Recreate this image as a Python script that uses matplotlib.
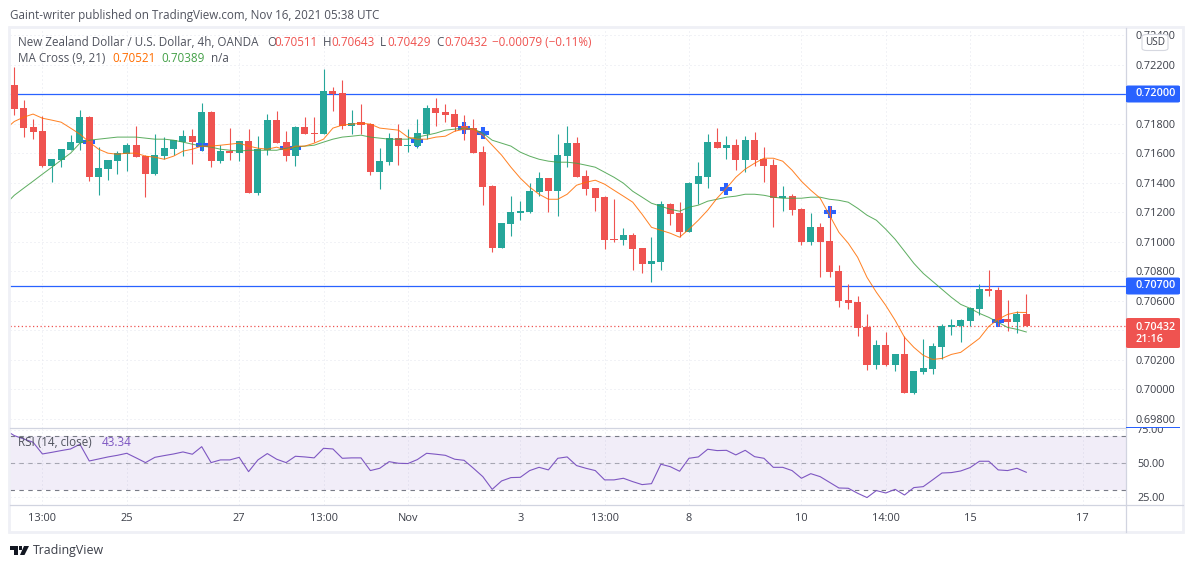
import matplotlib
matplotlib.use("Agg")
import matplotlib.pyplot as plt
import numpy as np
from matplotlib.lines import Line2D
from matplotlib.patches import FancyBboxPatch, Polygon, Rectangle

W, H = 1194, 568
BLUE = "#2962ff"
RED = "#ef5350"
GREEN = "#26a69a"
ORANGE = "#ff6d00"
MA_GREEN = "#43a047"
PURPLE = "#7e57c2"
TEXT = "#50535e"
AXIS_TEXT = "#3b3e48"
SEP = "#d1d4e0"
GRID = "#e4e6ee"
FONT = "Open Sans"

opens = [
    0.72061, 0.71905, 0.71776, 0.71749, 0.71512, 0.71553, 0.71620, 0.71668, 0.71844, 0.71437,
    0.71492, 0.71546, 0.71593, 0.71654, 0.71580, 0.71458, 0.71580, 0.71627, 0.71675, 0.71715,
    0.71668, 0.71878, 0.71546, 0.71614, 0.71600, 0.71681, 0.71329, 0.71620, 0.71824, 0.71675,
    0.71580, 0.71776, 0.71736, 0.71729, 0.72020, 0.72007, 0.71783, 0.71810, 0.71797, 0.71471,
    0.71539, 0.71702, 0.71648, 0.71648, 0.71729, 0.71905, 0.71878, 0.71865, 0.71783, 0.71770,
    0.71607, 0.71376, 0.70956, 0.71119, 0.71193, 0.71200, 0.71336, 0.71431, 0.71342, 0.71580,
    0.71668, 0.71444, 0.71363, 0.71302, 0.71017, 0.71010, 0.71044, 0.70956, 0.70848, 0.70861,
    0.71254, 0.71193, 0.71064, 0.71390, 0.71437, 0.71675, 0.71634, 0.71654, 0.71553, 0.71688,
    0.71559, 0.71519, 0.71295, 0.71309, 0.71220, 0.70997, 0.71098, 0.71003, 0.70800, 0.70603,
    0.70590, 0.70420, 0.70163, 0.70298, 0.70163, 0.70237, 0.69973, 0.70115, 0.70136, 0.70285,
    0.70420, 0.70427, 0.70461, 0.70542, 0.70678, 0.70671, 0.70475, 0.70454, 0.70511,
]
closes = [
    0.71898, 0.71770, 0.71742, 0.71512, 0.71559, 0.71627, 0.71675, 0.71844, 0.71437, 0.71498,
    0.71553, 0.71600, 0.71654, 0.71573, 0.71458, 0.71587, 0.71634, 0.71688, 0.71715, 0.71675,
    0.71878, 0.71546, 0.71614, 0.71600, 0.71681, 0.71329, 0.71627, 0.71824, 0.71668, 0.71580,
    0.71776, 0.71729, 0.71729, 0.72020, 0.72000, 0.71783, 0.71803, 0.71790, 0.71471, 0.71546,
    0.71702, 0.71648, 0.71654, 0.71736, 0.71905, 0.71871, 0.71858, 0.71776, 0.71763, 0.71600,
    0.71370, 0.70956, 0.71125, 0.71200, 0.71207, 0.71342, 0.71431, 0.71342, 0.71587, 0.71668,
    0.71437, 0.71356, 0.71295, 0.71010, 0.71010, 0.71044, 0.70949, 0.70848, 0.70868, 0.71254,
    0.71186, 0.71064, 0.71397, 0.71444, 0.71675, 0.71634, 0.71654, 0.71553, 0.71688, 0.71553,
    0.71512, 0.71295, 0.71309, 0.71214, 0.70997, 0.71098, 0.70997, 0.70793, 0.70597, 0.70583,
    0.70414, 0.70163, 0.70298, 0.70163, 0.70237, 0.69973, 0.70122, 0.70142, 0.70292, 0.70427,
    0.70434, 0.70468, 0.70549, 0.70678, 0.70664, 0.70468, 0.70454, 0.70509, 0.70432,
]
highs = [
    0.72183, 0.71959, 0.71831, 0.71851, 0.71559, 0.71627, 0.71722, 0.71892, 0.71851, 0.71641,
    0.71553, 0.71614, 0.71668, 0.71783, 0.71587, 0.71729, 0.71709, 0.71688, 0.71756, 0.71763,
    0.71939, 0.71885, 0.71654, 0.71770, 0.71681, 0.71763, 0.71715, 0.71865, 0.71885, 0.71749,
    0.71783, 0.71844, 0.71844, 0.72170, 0.72048, 0.72095, 0.71892, 0.71932, 0.71803, 0.71634,
    0.71736, 0.71797, 0.71763, 0.71831, 0.71926, 0.71973, 0.71932, 0.71898, 0.71858, 0.71831,
    0.71648, 0.71383, 0.71125, 0.71309, 0.71275, 0.71397, 0.71471, 0.71431, 0.71729, 0.71783,
    0.71709, 0.71485, 0.71363, 0.71309, 0.71288, 0.71092, 0.71058, 0.70956, 0.71031, 0.71275,
    0.71261, 0.71268, 0.71403, 0.71539, 0.71729, 0.71770, 0.71715, 0.71695, 0.71715, 0.71742,
    0.71641, 0.71559, 0.71376, 0.71322, 0.71227, 0.71193, 0.71125, 0.71241, 0.70841, 0.70712,
    0.70631, 0.70509, 0.70332, 0.70386, 0.70237, 0.70359, 0.70122, 0.70339, 0.70312, 0.70441,
    0.70475, 0.70475, 0.70556, 0.70712, 0.70807, 0.70692, 0.70603, 0.70529, 0.70643,
]
lows = [
    0.71858, 0.71709, 0.71695, 0.71505, 0.71403, 0.71505, 0.71620, 0.71620, 0.71410, 0.71315,
    0.71417, 0.71458, 0.71478, 0.71573, 0.71302, 0.71451, 0.71559, 0.71587, 0.71580, 0.71526,
    0.71614, 0.71505, 0.71532, 0.71553, 0.71546, 0.71329, 0.71315, 0.71587, 0.71668, 0.71546,
    0.71512, 0.71729, 0.71675, 0.71729, 0.71885, 0.71763, 0.71729, 0.71729, 0.71451, 0.71356,
    0.71519, 0.71519, 0.71607, 0.71634, 0.71695, 0.71783, 0.71810, 0.71749, 0.71688, 0.71600,
    0.71248, 0.70929, 0.70956, 0.71037, 0.71146, 0.71193, 0.71309, 0.71200, 0.71173, 0.71505,
    0.71437, 0.71315, 0.71207, 0.70949, 0.70997, 0.70976, 0.70807, 0.70786, 0.70725, 0.70807,
    0.71112, 0.71031, 0.71064, 0.71254, 0.71363, 0.71634, 0.71559, 0.71485, 0.71471, 0.71512,
    0.71403, 0.71098, 0.71207, 0.71180, 0.70976, 0.70976, 0.70759, 0.70759, 0.70556, 0.70542,
    0.70359, 0.70129, 0.70136, 0.70156, 0.70122, 0.69973, 0.69966, 0.70102, 0.70102, 0.70203,
    0.70366, 0.70319, 0.70427, 0.70502, 0.70631, 0.70427, 0.70393, 0.70380, 0.70429,
]

# indicators start one bar before the first visible candle
ma_fast = [
    0.71760, 0.71815, 0.71844, 0.71865, 0.71837, 0.71824, 0.71810, 0.71770, 0.71729, 0.71675,
    0.71627, 0.71600, 0.71593, 0.71600, 0.71600, 0.71580, 0.71573, 0.71559, 0.71580, 0.71614,
    0.71627, 0.71648, 0.71648, 0.71654, 0.71661, 0.71668, 0.71648, 0.71634, 0.71627, 0.71641,
    0.71620, 0.71648, 0.71648, 0.71668, 0.71695, 0.71770, 0.71790, 0.71797, 0.71803, 0.71797,
    0.71770, 0.71763, 0.71756, 0.71709, 0.71695, 0.71695, 0.71709, 0.71715, 0.71749, 0.71763,
    0.71763, 0.71722, 0.71654, 0.71587, 0.71505, 0.71431, 0.71370, 0.71322, 0.71288, 0.71288,
    0.71322, 0.71383, 0.71403, 0.71417, 0.71390, 0.71349, 0.71309, 0.71268, 0.71186, 0.71098,
    0.71078, 0.71058, 0.71031, 0.71085, 0.71146, 0.71214, 0.71295, 0.71363, 0.71437, 0.71492,
    0.71532, 0.71566, 0.71566, 0.71546, 0.71485, 0.71410, 0.71349, 0.71295, 0.71180, 0.71064,
    0.70990, 0.70895, 0.70759, 0.70658, 0.70569, 0.70468, 0.70353, 0.70285, 0.70231, 0.70203,
    0.70210, 0.70237, 0.70251, 0.70298, 0.70346, 0.70427, 0.70475, 0.70508, 0.70522, 0.70521,
]
ma_slow = [
    0.71250, 0.71315, 0.71363, 0.71410, 0.71458, 0.71505, 0.71553, 0.71600, 0.71668, 0.71688,
    0.71695, 0.71702, 0.71709, 0.71709, 0.71709, 0.71702, 0.71695, 0.71695, 0.71688, 0.71675,
    0.71661, 0.71648, 0.71641, 0.71627, 0.71620, 0.71614, 0.71620, 0.71620, 0.71620, 0.71620,
    0.71634, 0.71641, 0.71648, 0.71654, 0.71675, 0.71695, 0.71709, 0.71715, 0.71722, 0.71709,
    0.71702, 0.71695, 0.71695, 0.71695, 0.71709, 0.71722, 0.71736, 0.71756, 0.71763, 0.71770,
    0.71763, 0.71736, 0.71688, 0.71668, 0.71648, 0.71607, 0.71580, 0.71559, 0.71546, 0.71539,
    0.71539, 0.71532, 0.71519, 0.71505, 0.71471, 0.71437, 0.71397, 0.71342, 0.71302, 0.71261,
    0.71241, 0.71220, 0.71207, 0.71234, 0.71248, 0.71275, 0.71288, 0.71302, 0.71309, 0.71322,
    0.71322, 0.71315, 0.71302, 0.71295, 0.71295, 0.71295, 0.71302, 0.71302, 0.71288, 0.71281,
    0.71268, 0.71227, 0.71180, 0.71146, 0.71085, 0.71017, 0.70936, 0.70854, 0.70786, 0.70732,
    0.70678, 0.70624, 0.70576, 0.70549, 0.70515, 0.70488, 0.70454, 0.70420, 0.70407, 0.70389,
]
rsi = [
    74.7, 70.5, 68.0, 65.6, 56.9, 58.1, 59.4, 60.6, 64.1, 51.7,
    53.2, 54.7, 55.9, 57.4, 54.0, 50.5, 54.4, 55.7, 56.9, 58.4,
    56.7, 62.3, 50.5, 52.5, 52.5, 54.4, 43.8, 52.5, 57.2, 53.0,
    50.5, 55.2, 54.7, 54.0, 61.1, 60.6, 53.7, 54.0, 54.0, 44.6,
    46.3, 51.2, 50.0, 49.8, 52.7, 57.4, 56.7, 55.9, 53.0, 52.2,
    46.3, 40.1, 30.7, 36.9, 39.4, 39.6, 44.6, 47.0, 45.1, 53.7,
    54.7, 48.3, 46.3, 44.6, 37.7, 37.7, 38.9, 36.4, 34.2, 34.9,
    49.3, 47.5, 44.1, 53.7, 54.7, 60.4, 59.4, 59.6, 56.2, 59.6,
    54.9, 53.7, 47.0, 47.0, 44.6, 38.9, 42.3, 40.1, 35.9, 31.7,
    31.5, 27.8, 24.6, 29.8, 28.0, 30.7, 26.5, 32.0, 32.7, 37.7,
    42.8, 43.1, 44.3, 46.8, 51.5, 51.5, 45.1, 44.6, 46.3, 43.34,
]

cross_bars = [8, 20, 29, 30, 43, 48, 50, 76, 87, 105]
cross_prices = [0.71676, 0.71654, 0.71634, 0.71634, 0.71681, 0.71770, 0.71736, 0.71356, 0.71200, 0.70461]

levels = [0.72000, 0.70700]
last_price = 0.70432
price_ticks = [0.72400, 0.72200, 0.71800, 0.71600, 0.71400, 0.71200, 0.71000, 0.70800, 0.70600, 0.70200, 0.70000, 0.69800]
grid_prices = price_ticks + [0.72000, 0.70400]
rsi_ticks = [75, 50, 25]
time_ticks = [3, 12, 24, 33, 42, 54, 63, 72, 84, 93, 102, 114]
time_labels = ["13:00", "25", "27", "13:00", "Nov", "3", "13:00", "8", "10", "14:00", "15", "17"]

plt.rcParams["font.family"] = [FONT, "DejaVu Sans"]


def pane(left, top, right, bottom):
    return fig.add_axes([left / W, 1 - bottom / H, (right - left) / W, (bottom - top) / H])


def label(x, y, s, size, color=TEXT, **kw):
    kw.setdefault("va", "center")
    return fig.text(x / W, 1 - y / H, s, fontsize=size * 0.72, color=color, **kw)


def px_rect(left, top, right, bottom, **kw):
    fig.add_artist(Rectangle((left / W, 1 - bottom / H), (right - left) / W, (bottom - top) / H,
                             transform=fig.transFigure, **kw))


def logo_shape(points):
    fig.add_artist(Polygon([(a / W, 1 - b / H) for a, b in points], transform=fig.transFigure, fc="#131722", ec="none"))


fig = plt.figure(figsize=(W / 100, H / 100), dpi=100, facecolor="white")

ax = pane(10, 28, 1126, 427.5)
ax_rsi = pane(10, 427.5, 1126, 505)
xlim = (-0.46, 118.64)
ax.set_xlim(xlim)
ax.set_ylim(0.69742, 0.72448)
ax_rsi.set_xlim(xlim)
ax_rsi.set_ylim(19.1, 76.5)

x = np.arange(len(opens))
x_ind = np.arange(-1, len(opens))
o, c, h, l = map(np.array, (opens, closes, highs, lows))
colors = np.where(c >= o, GREEN, RED)

for a in (ax, ax_rsi):
    for s in a.spines.values():
        s.set_visible(False)
    a.set_xticks(time_ticks)
    a.grid(True, color=GRID, lw=0.72, ls=(0, (1, 3)))
    a.set_axisbelow(True)

ax.set_yticks(grid_prices)
ax.tick_params(length=0, labelleft=False, labelbottom=False, labelright=False)
ax_rsi.set_yticks(rsi_ticks)

# level lines and last price
for lv in levels:
    ax.axhline(lv, color=BLUE, lw=0.9, zorder=2)
ax.axhline(last_price, color=RED, lw=0.9, ls=(0, (1, 2)), zorder=2)

# MA crosses sit under the candles
ax.plot(cross_bars, cross_prices, ls="none", marker="+", ms=8.6, mew=2.9, color=BLUE, zorder=3)

ax.vlines(x, l, h, colors=colors, lw=0.8, zorder=4)
ax.bar(x, c - o, bottom=o, width=0.75, color=colors, lw=0, zorder=4)
ax.plot(x_ind, ma_slow, color=MA_GREEN, lw=0.72, alpha=0.85, zorder=5)
ax.plot(x_ind, ma_fast, color=ORANGE, lw=0.72, alpha=0.85, zorder=5)

# right price axis
for p in price_ticks:
    y_px = ax.transData.transform((0, p))[1]
    fig.text(1136 / W, (y_px - 1.5) / H, f"{p:.5f}", fontsize=10.9 * 0.72, color=AXIS_TEXT, va="center")

# RSI pane
ax_rsi.axhspan(30, 70, color=PURPLE, alpha=0.1, lw=0)
for lv in (70, 50, 30):
    ax_rsi.axhline(lv, color="#787b86", lw=0.8, ls=(0, (4, 4)), alpha=1 if lv != 50 else 0.6)
ax_rsi.plot(x_ind, rsi, color=PURPLE, lw=0.8)
ax_rsi.tick_params(length=0, labelleft=False, labelbottom=True, pad=6)
ax_rsi.set_xticks(time_ticks, time_labels, fontsize=11 * 0.72, color=AXIS_TEXT)
for t in rsi_ticks:
    y_px = ax_rsi.transData.transform((0, t))[1]
    fig.text(1137 / W, (y_px - 1) / H, f"{t:.2f}", fontsize=10.9 * 0.72, color=AXIS_TEXT, va="center", zorder=1)

# frame and separators, in figure pixels
px_rect(9, 27, 1183, 532, fc="none", ec="#eff0f6", lw=2)
px_rect(1127, 425, 1180, 427, fc="white", ec="none", zorder=2)
px_rect(1126, 426.5, 1180, 427.8, fc=BLUE, ec="none", zorder=6)
for xs, ys in [((10, 1126), (427.5, 427.5)), ((10, 1126), (505, 505)), ((1126, 1126), (28, 532)), ((1126, 1183), (505, 505))]:
    fig.add_artist(Line2D([v / W for v in xs], [1 - v / H for v in ys], color=SEP, lw=0.9))


def price_box(top, bottom, color):
    fig.add_artist(FancyBboxPatch((1126 / W, 1 - bottom / H), 54 / W, (bottom - top) / H, transform=fig.transFigure,
                                  boxstyle="round,pad=0,rounding_size=0.002", fc=color, ec="none", zorder=6))


price_box(85.5, 102.5, BLUE)
price_box(277.5, 294.5, BLUE)
price_box(318, 348, RED)
for y, s in [(94, "0.72000"), (286, "0.70700"), (327, "0.70432"), (340, "21:16")]:
    label(1136, y, s, 10.7, "white", fontweight="semibold", zorder=7)

# USD badge
fig.add_artist(FancyBboxPatch((1142 / W, 1 - 50.5 / H), 26 / W, 16 / H, transform=fig.transFigure,
                              boxstyle="round,pad=0,rounding_size=0.004", fc="white", ec="#d6d8e0", lw=0.8, zorder=6))
label(1155, 42.5, "USD", 10, AXIS_TEXT, ha="center", zorder=7)

# header and legends
label(9.5, 15, "Gaint-writer published on TradingView.com, Nov 16, 2021 05:38 UTC", 11.6)
label(18, 42, "New Zealand Dollar / U.S. Dollar, 4h, OANDA", 11.6)
for xpos, s, col in [(267, "O", TEXT), (274, "0.70511", RED), (323, "H", TEXT), (331, "0.70643", RED),
                     (380, "L", TEXT), (387, "0.70429", RED), (436, "C", TEXT), (444, "0.70432", RED),
                     (492, "\u22120.00079 (\u22120.11%)", RED)]:
    label(xpos, 42, s, 11.6, col)
label(18, 59, "MA Cross (9, 21)", 11.6)
label(112, 59, "0.70521", 11.6, ORANGE)
label(161, 59, "0.70389", 11.6, MA_GREEN)
label(211, 59, "n/a", 11.6)
label(18, 443, "RSI (14, close)", 11.6)
label(102, 443, "43.34", 11.6, PURPLE)

# TradingView logo
logo_shape([(10, 546), (18, 546), (18, 555), (14, 555), (14, 549.5), (10, 549.5)])
logo_shape([(24, 546), (29, 546), (24.5, 555), (20, 555)])
logo_shape([(18.8, 546), (22, 546), (22, 549.5), (18.8, 549.5)])
label(33, 550.5, "TradingView", 12.4, AXIS_TEXT)

fig.savefig("out.png", dpi=100)
